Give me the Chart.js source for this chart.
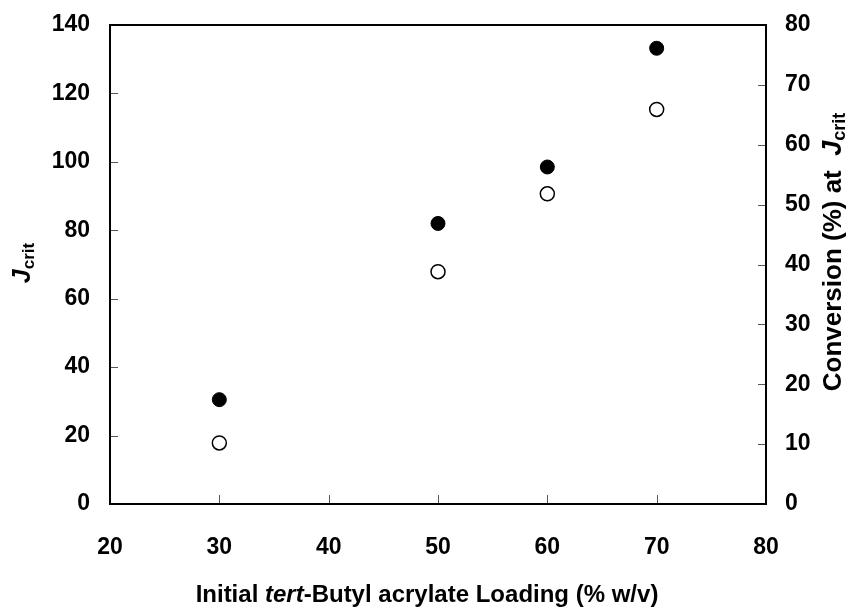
<!DOCTYPE html>
<html>
<head>
<meta charset="utf-8">
<script src="https://cdn.jsdelivr.net/npm/chart.js@4"></script>
<style>
  body { margin: 0; background: #fff; }
  canvas { display: block; }
</style>
</head>
<body>
<canvas id="chart" width="850" height="608"></canvas>
<script>
const loading = [30, 50, 60, 70];
const jCrit = [30.5, 82, 98.5, 133.2];
const conversion = [10.2, 38.8, 51.8, 65.9];

const FONT = "'Liberation Sans', Arial, sans-serif";

// draw a row of text pieces with different styles, centred on (0,0)
function drawPieces(ctx, pieces) {
    let total = 0;
    pieces.forEach(p => {
        ctx.font = p.font;
        p.w = ctx.measureText(p.text).width;
        total += p.w;
    });
    let x = -total / 2;
    pieces.forEach(p => {
        ctx.font = p.font;
        ctx.fillText(p.text, x, p.dy || 0);
        x += p.w;
    });
}

const framePlugin = {
    id: "frame",
    afterDraw(chart) {
        const ctx = chart.ctx;
        const area = chart.chartArea;
        const sx = chart.scales.x, sy = chart.scales.y, sy2 = chart.scales.y2;
        ctx.save();

        // inward tick marks
        ctx.strokeStyle = "#555";
        ctx.lineWidth = 1;
        ctx.beginPath();
        sy.ticks.forEach(t => {
            const py = Math.round(sy.getPixelForValue(t.value)) + 0.5;
            ctx.moveTo(area.left, py); ctx.lineTo(area.left + 8, py);
        });
        sy2.ticks.forEach(t => {
            const py = Math.round(sy2.getPixelForValue(t.value)) + 0.5;
            ctx.moveTo(area.right, py); ctx.lineTo(area.right - 8, py);
        });
        sx.ticks.forEach(t => {
            const px = Math.round(sx.getPixelForValue(t.value)) + 0.5;
            ctx.moveTo(px, area.bottom); ctx.lineTo(px, area.bottom - 9);
        });
        ctx.stroke();

        // box
        ctx.strokeStyle = "#000";
        ctx.lineWidth = 2;
        ctx.strokeRect(area.left, area.top, area.right - area.left, area.bottom - area.top);

        // titles
        ctx.fillStyle = "#000";
        ctx.textBaseline = "middle";
        ctx.textAlign = "left";

        ctx.save();
        ctx.translate(427, 595);
        drawPieces(ctx, [
            { text: "Initial ", font: "bold 24px " + FONT },
            { text: "tert", font: "italic bold 24px " + FONT },
            { text: "-Butyl acrylate Loading (% w/v)", font: "bold 24px " + FONT }
        ]);
        ctx.restore();

        ctx.save();
        ctx.translate(23, 263);
        ctx.rotate(-Math.PI / 2);
        drawPieces(ctx, [
            { text: "J", font: "italic bold 25px " + FONT },
            { text: "crit", font: "bold 17px " + FONT, dy: 6 }
        ]);
        ctx.restore();

        ctx.save();
        ctx.translate(834, 252);
        ctx.rotate(-Math.PI / 2);
        drawPieces(ctx, [
            { text: "Conversion (%) at  ", font: "bold 26px " + FONT },
            { text: "J", font: "italic bold 27px " + FONT },
            { text: "crit", font: "bold 18px " + FONT, dy: 6 }
        ]);
        ctx.restore();

        ctx.restore();
    }
};

const tickFont = { family: FONT, size: 23, weight: "bold" };

function noPadY(scale) {
    scale.paddingTop = 0;
    scale.paddingBottom = 0;
}

new Chart(document.getElementById("chart"), {
    type: "scatter",
    data: {
        datasets: [
            {
                label: "Jcrit",
                data: loading.map((x, i) => ({ x: x, y: jCrit[i] })),
                yAxisID: "y",
                pointRadius: 7,
                pointBackgroundColor: "#000",
                pointBorderColor: "#000",
                pointBorderWidth: 1
            },
            {
                label: "Conversion",
                data: loading.map((x, i) => ({ x: x, y: conversion[i] })),
                yAxisID: "y2",
                pointRadius: 7,
                pointBackgroundColor: "#fff",
                pointBorderColor: "#000",
                pointBorderWidth: 1.5
            }
        ]
    },
    options: {
        responsive: false,
        animation: false,
        layout: { padding: { top: 25, left: 0, right: 0, bottom: 0 } },
        plugins: {
            legend: { display: false },
            tooltip: { enabled: false }
        },
        scales: {
            x: {
                type: "linear",
                min: 20,
                max: 80,
                ticks: { stepSize: 10, color: "#000", font: tickFont, padding: 30, maxRotation: 0 },
                grid: { display: false, drawTicks: false },
                border: { display: false },
                afterFit(scale) {
                    scale.height = 104;
                    scale.paddingLeft = 0;
                    scale.paddingRight = 0;
                }
            },
            y: {
                position: "left",
                min: 0,
                max: 140,
                ticks: { stepSize: 20, color: "#000", font: tickFont, padding: 20 },
                grid: { display: false, drawTicks: false },
                border: { display: false },
                afterFit(scale) { scale.width = 110; noPadY(scale); }
            },
            y2: {
                position: "right",
                min: 0,
                max: 80,
                ticks: { stepSize: 10, color: "#000", font: tickFont, padding: 19 },
                grid: { display: false, drawTicks: false },
                border: { display: false },
                afterFit(scale) { scale.width = 84; noPadY(scale); }
            }
        }
    },
    plugins: [framePlugin]
});
</script>
</body>
</html>
